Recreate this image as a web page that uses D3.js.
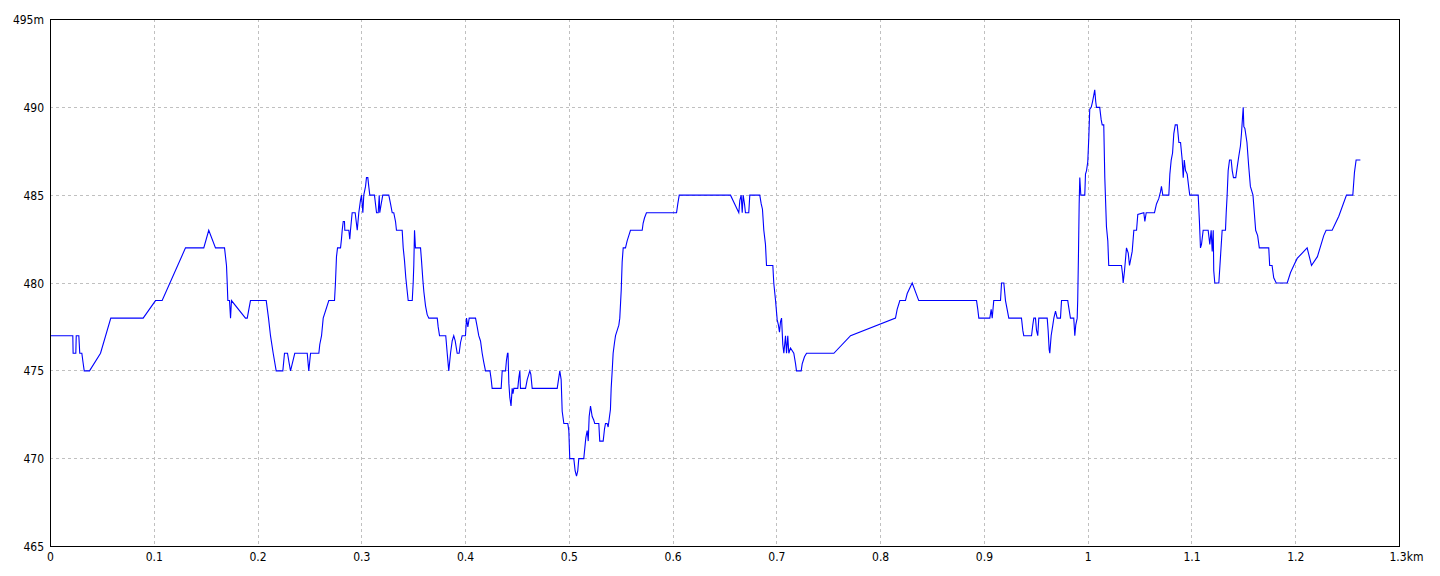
<!DOCTYPE html>
<html>
<head>
<meta charset="utf-8">
<script src="https://cdn.jsdelivr.net/npm/d3@7/dist/d3.min.js"></script>
<style>
  html, body { margin: 0; padding: 0; background: #fff; }
  svg { display: block; }
  .lbl { font-family: "Liberation Sans Narrow", "Arial Narrow", "DejaVu Sans Condensed", sans-serif; font-size: 12px; fill: #000; }
</style>
</head>
<body>
<svg id="chart" width="1440" height="576"></svg>
<script>
// ---- data: distance (km) and elevation (m) ----
const dist = [
0.0000,0.0215,0.0218,0.0244,0.0248,0.0273,0.0282,0.0302,0.0313,0.0325,0.0376,0.0482,0.0581,0.0893,0.1012,0.1076,
0.1301,0.1477,0.1525,0.1590,0.1677,0.1696,0.1703,0.1709,0.1725,0.1735,0.1744,0.1879,0.1896,0.1927,0.2079,0.2101,
0.2120,0.2146,0.2175,0.2239,0.2255,0.2284,0.2298,0.2313,0.2354,0.2474,0.2489,0.2506,0.2586,0.2595,0.2612,0.2628,
0.2682,0.2737,0.2746,0.2756,0.2766,0.2795,0.2804,0.2811,0.2821,0.2833,0.2836,0.2875,0.2884,0.2891,0.2907,0.2936,
0.2946,0.2956,0.2971,0.2987,0.2997,0.3010,0.3019,0.3036,0.3045,0.3058,0.3067,0.3077,0.3122,0.3132,0.3142,0.3158,
0.3168,0.3173,0.3187,0.3202,0.3260,0.3277,0.3293,0.3308,0.3325,0.3334,0.3389,0.3399,0.3411,0.3424,0.3438,0.3447,
0.3486,0.3495,0.3501,0.3508,0.3517,0.3566,0.3575,0.3588,0.3598,0.3614,0.3630,0.3646,0.3727,0.3736,0.3749,0.3809,
0.3823,0.3838,0.3855,0.3871,0.3886,0.3900,0.3919,0.3938,0.3951,0.3967,0.3999,0.4009,0.4022,0.4035,0.4096,0.4112,
0.4127,0.4144,0.4160,0.4175,0.4192,0.4235,0.4247,0.4256,0.4343,0.4353,0.4385,0.4394,0.4404,0.4409,0.4417,0.4426,
0.4438,0.4449,0.4457,0.4465,0.4503,0.4513,0.4523,0.4529,0.4578,0.4594,0.4609,0.4619,0.4629,0.4642,0.4883,0.4898,
0.4908,0.4921,0.4931,0.4947,0.4985,0.4995,0.5004,0.5043,0.5056,0.5069,0.5081,0.5091,0.5139,0.5149,0.5159,0.5172,
0.5182,0.5191,0.5204,0.5220,0.5235,0.5245,0.5284,0.5293,0.5326,0.5339,0.5348,0.5364,0.5374,0.5387,0.5396,0.5403,
0.5413,0.5422,0.5435,0.5445,0.5461,0.5477,0.5486,0.5500,0.5509,0.5519,0.5541,0.5557,0.5573,0.5589,0.5702,0.5711,
0.5724,0.5743,0.6033,0.6045,0.6059,0.6553,0.6633,0.6643,0.6656,0.6666,0.6675,0.6688,0.6697,0.6729,0.6739,0.6835,
0.6849,0.6861,0.6874,0.6890,0.6900,0.6961,0.6970,0.6987,0.7003,0.7015,0.7025,0.7035,0.7045,0.7057,0.7067,0.7083,
0.7093,0.7105,0.7115,0.7131,0.7163,0.7180,0.7189,0.7234,0.7244,0.7266,0.7286,0.7549,0.7710,0.8143,0.8159,0.8185,
0.8239,0.8256,0.8304,0.8367,0.8924,0.8936,0.8946,0.9052,0.9065,0.9075,0.9090,0.9155,0.9165,0.9187,0.9203,0.9219,
0.9235,0.9357,0.9370,0.9379,0.9454,0.9466,0.9476,0.9492,0.9502,0.9514,0.9524,0.9605,0.9614,0.9624,0.9630,0.9643,
0.9659,0.9669,0.9685,0.9701,0.9733,0.9743,0.9803,0.9813,0.9829,0.9861,0.9871,0.9880,0.9894,0.9899,0.9906,0.9913,
0.9919,0.9929,0.9967,0.9974,0.9984,0.9996,1.0006,1.0015,1.0029,1.0041,1.0054,1.0063,1.0073,1.0080,1.0111,1.0125,
1.0135,1.0150,1.0160,1.0176,1.0189,1.0198,1.0321,1.0331,1.0337,1.0350,1.0369,1.0386,1.0398,1.0408,1.0424,1.0440,
1.0466,1.0478,1.0536,1.0546,1.0559,1.0639,1.0658,1.0680,1.0697,1.0706,1.0719,1.0777,1.0787,1.0800,1.0813,1.0825,
1.0839,1.0858,1.0874,1.0890,1.0906,1.0916,1.0926,1.0938,1.0954,1.0970,1.0979,1.1060,1.1072,1.1082,1.1092,1.1108,
1.1156,1.1172,1.1185,1.1195,1.1205,1.1210,1.1220,1.1259,1.1275,1.1291,1.1323,1.1330,1.1339,1.1349,1.1362,1.1378,
1.1388,1.1400,1.1422,1.1436,1.1451,1.1467,1.1477,1.1487,1.1494,1.1500,1.1510,1.1530,1.1546,1.1563,1.1588,1.1601,
1.1614,1.1633,1.1649,1.1740,1.1749,1.1772,1.1788,1.1812,1.1918,1.1950,1.1981,1.2014,1.2110,1.2152,1.2209,1.2270,
1.2293,1.2351,1.2415,1.2489,1.2550,1.2566,1.2582,1.2623
];
const elev = [
477,477,476,476,477,477,476,476,475.5,475,475,476,478,478,479,479,
482,482,483,482,482,481,480,479,479,478,479,478,478,479,479,478,
477,476,475,475,476,476,475.5,475,476,476,475,476,476,476.5,477,478,
479,479,480,481.5,482,482,482.5,483,483.5,483.5,483,483,482.5,483,484,484,
483.5,483,484,484.7,485,484,485,485.5,486,486,485.5,485,485,484.5,484,484,
485,484,484.5,485,485,484.5,484,484,483.5,483,483,482,481.3,480.3,479.5,479,
479,480,481,483,482,482,481.3,480.2,479.5,478.7,478.2,478,478,477.5,477,477,
476,475,476,476.7,477,476.7,476,476,476.6,477,477,478,477.5,478,478,477.5,
477,476.7,476,475.5,475,475,474.5,474,474,475,475,475.6,476,476,474.3,473.5,
473,474,473.7,474,474,474.6,475,474,474,474.5,474.8,475,474.8,474,474,474.6,
475,474.5,472.7,472,472,471.6,470,470,469.3,469,469.3,470,470,470.6,471.2,471.6,
471,472.4,473,472.4,472.2,472,472,471,471,471.7,472,472,471.8,472.4,472.8,474,
475,476,476.6,477,477.3,477.6,478,479.6,481.2,482,482,482.4,482.7,483,483,483.4,
483.7,484,484,484.5,485,485,484,484.7,485,484,485,484.5,484,484,485,485,
484.5,484.2,483,482.2,481,481,480,479,477.9,477.6,477.2,477.8,478,476.5,476,477,
476,477,476,476.3,476,475.4,475,475,475.4,475.8,476,476,477,478,478.5,479,
479,479.4,480,479,479,478.5,478,478,478.5,478,479,479,480,480,479,478.5,
478,478,477.3,477,477,477.6,478,478,477.3,477,478,478,477.3,476.2,476,477,
477.6,478,478.4,478,478,479,479,478.6,478,478,477,477.6,478,479,481.5,484.5,
486,485,485,486.2,486.4,486.9,488.3,489.9,490,490.3,490.7,491,490.3,490,490,489.3,
489,489,486,483.2,482.4,481,481,480.5,480,480.7,482,481.7,481,481.3,481.8,483,
483,483.9,484,483.5,484,484,484.5,484.8,485.2,485.5,485,485,486.2,487,487.4,488.5,
489,489,488,488,487,486,487,486.4,486.2,485.4,485,485,483.5,482,482.2,483,
483,482.2,483,481.8,483,480.7,480,480,481.5,483,483,484,485,486.4,487,487,
486.4,486,486,486.6,487.2,487.8,488.5,489.4,490,488.9,488.8,488,486.7,485.5,485,484,
483,482.7,482,482,481,481,480.3,480,480,480.6,481,481.4,482,481,481.5,482.7,
483,483,483.8,485,485,486.3,487,487
];
const xTicks = [0,0.1,0.2,0.3,0.4,0.5,0.6,0.7,0.8,0.9,1.0,1.1,1.2,1.3];
const xTickLabels = ["0","0.1","0.2","0.3","0.4","0.5","0.6","0.7","0.8","0.9","1","1.1","1.2","1.3km"];
const yTicks = [465,470,475,480,485,490,495];
const yTickLabels = ["465","470","475","480","485","490","495m"];

// ---- layout ----
const L = 50, R = 1399, T = 19, B = 546;
const svg = d3.select("#chart");
const x = d3.scaleLinear().domain([0, 1.3]).range([L, R]);
const y = d3.scaleLinear().domain([465, 495]).range([B, T]);

// grid
const grid = svg.append("g").attr("stroke", "#c0c0c0").attr("stroke-width", 1)
  .attr("stroke-dasharray", "3,3").attr("shape-rendering", "crispEdges");
grid.selectAll("line.v").data(xTicks.slice(1, -1)).join("line")
  .attr("x1", d => Math.round(x(d)) + 0.5).attr("x2", d => Math.round(x(d)) + 0.5)
  .attr("y1", T).attr("y2", B);
grid.selectAll("line.h").data(yTicks.slice(1, -1)).join("line")
  .attr("y1", d => Math.round(y(d)) + 0.5).attr("y2", d => Math.round(y(d)) + 0.5)
  .attr("x1", L).attr("x2", R);

// line
const pts = dist.map((d, i) => [d, elev[i]]);
const line = d3.line().x(d => x(d[0]) + 0.5).y(d => y(d[1]) + 0.5);
svg.append("path").datum(pts).attr("d", line)
  .attr("fill", "none").attr("stroke", "#0000ff").attr("stroke-width", 1.1)
  .attr("stroke-linejoin", "miter");

// frame
svg.append("rect").attr("x", L + 0.5).attr("y", T + 0.5)
  .attr("width", R - L).attr("height", B - T)
  .attr("fill", "none").attr("stroke", "#000").attr("stroke-width", 1)
  .attr("shape-rendering", "crispEdges");

// axes (labels only)
const xAxis = d3.axisBottom(x).tickValues(xTicks).tickSize(0).tickPadding(0)
  .tickFormat((d, i) => xTickLabels[i]);
const gx = svg.append("g").attr("transform", `translate(0,${B})`).call(xAxis);
gx.select(".domain").remove();
gx.selectAll("text").attr("class", "lbl").attr("dy", null).attr("y", 15)
  .attr("font-family", null).attr("font-size", null)
  .each(function(d, i) {
    if (i === xTicks.length - 1) d3.select(this).attr("text-anchor", "start").attr("x", -10);
  });
gx.attr("font-family", null).attr("font-size", null);

const yAxis = d3.axisLeft(y).tickValues(yTicks).tickSize(0).tickPadding(6)
  .tickFormat((d, i) => yTickLabels[i]);
const gy = svg.append("g").attr("transform", `translate(${L},0)`).call(yAxis);
gy.select(".domain").remove();
gy.selectAll("text").attr("class", "lbl").attr("dy", null).attr("y", 4.5)
  .attr("font-family", null).attr("font-size", null);
gy.attr("font-family", null).attr("font-size", null);
</script>
</body>
</html>
